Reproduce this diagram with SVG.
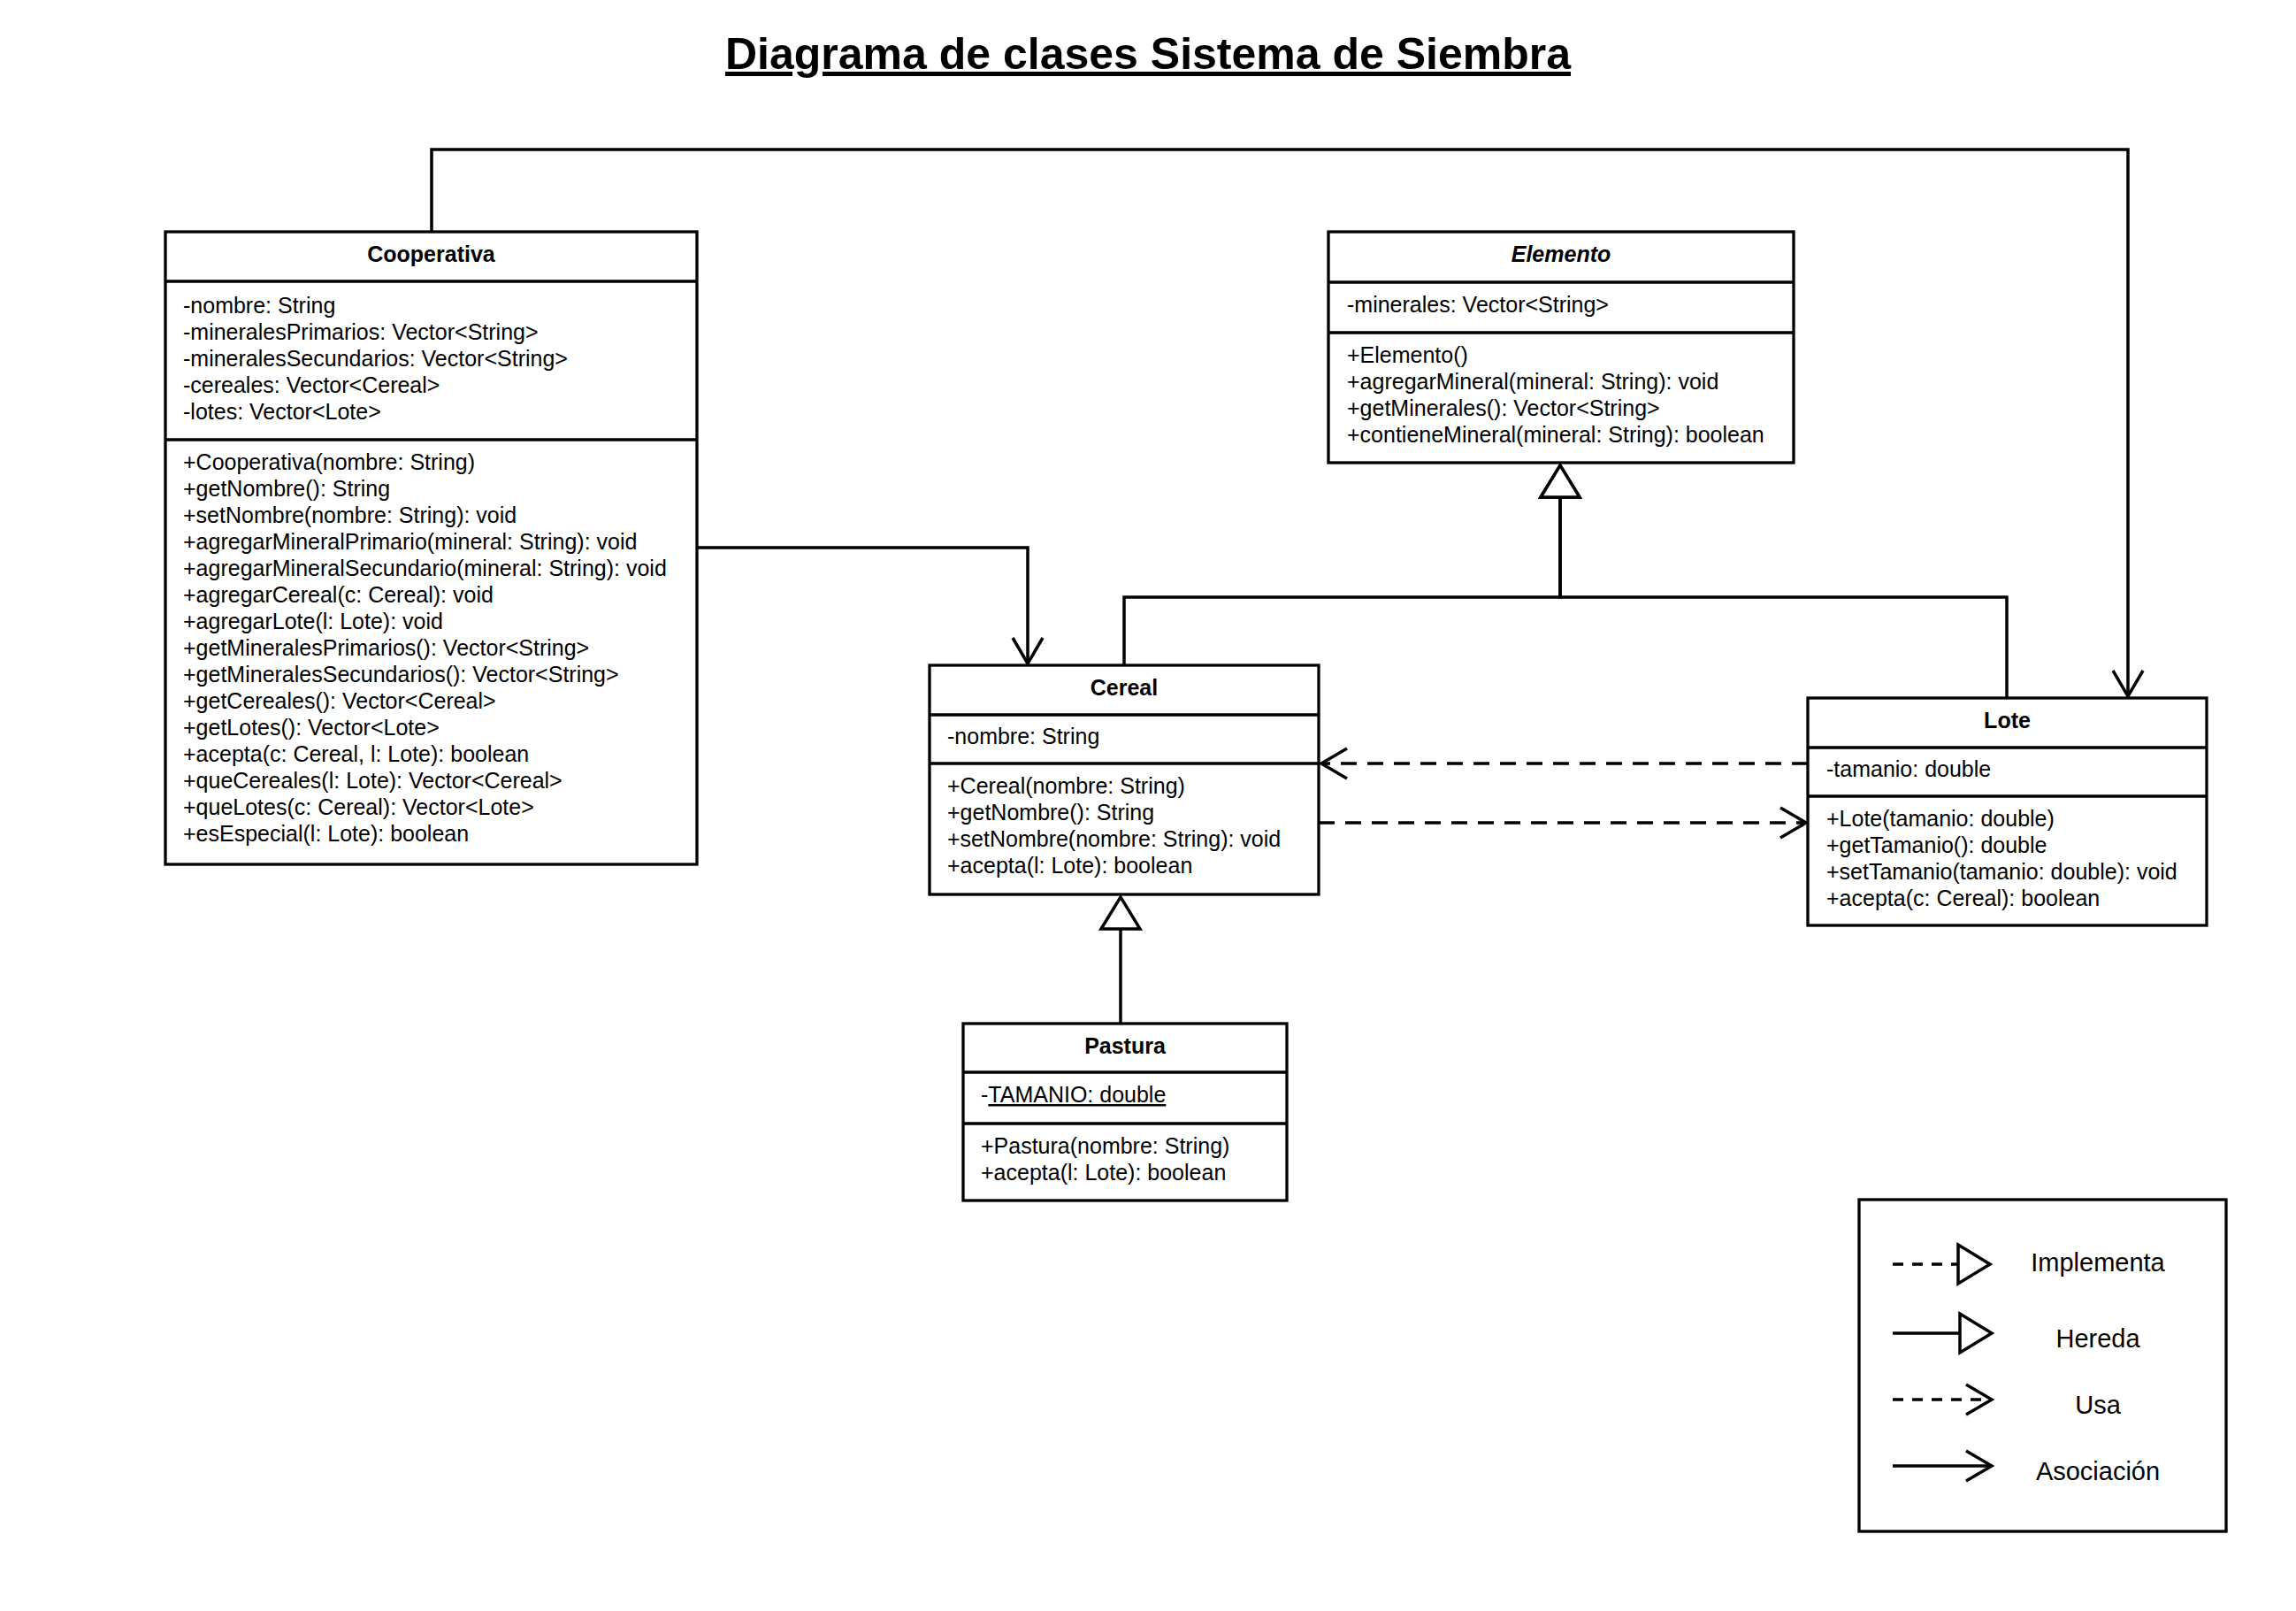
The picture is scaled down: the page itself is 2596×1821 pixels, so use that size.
<svg xmlns="http://www.w3.org/2000/svg" width="2596" height="1821" viewBox="0 0 2596 1821">
<style>
text{font-family:"Liberation Sans",Arial,sans-serif;fill:#000}
.t{font-size:25px}
.h{font-size:25px;font-weight:bold;text-anchor:middle}
.box{fill:#fff;stroke:#000;stroke-width:3.3}
.div{stroke:#000;stroke-width:3.3}
.c{fill:none;stroke:#000;stroke-width:3.5}
.d{stroke-dasharray:18 12}
.ld{stroke-dasharray:12 10}
.lg{font-size:29px;text-anchor:middle}
</style>
<defs>
<marker id="open" markerUnits="userSpaceOnUse" markerWidth="40" markerHeight="40" refX="30" refY="17" orient="auto" overflow="visible">
<path d="M1,0 L30,17 L1,34" fill="none" stroke="#000" stroke-width="3.5" stroke-dasharray="none"/>
</marker>
<marker id="tri" markerUnits="userSpaceOnUse" markerWidth="40" markerHeight="46" refX="36" refY="22" orient="auto" overflow="visible">
<path d="M0,0 L36,22 L0,44 Z" fill="#fff" stroke="#000" stroke-width="3.5" stroke-dasharray="none"/>
</marker>
</defs>
<rect width="2596" height="1821" fill="#fff"/>
<text x="1298" y="78" font-size="50" font-weight="bold" text-anchor="middle" text-decoration="underline">Diagrama de clases Sistema de Siembra</text>

<g id="connectors">
<path class="c" d="M488,262 V169 H2406 V787" marker-end="url(#open)"/>
<path class="c" d="M788,619 H1162 V750" marker-end="url(#open)"/>
<path class="c" d="M1271,752 V675 H1764 V526" marker-end="url(#tri)"/>
<path class="c" d="M2269,789 V675 H1764 V526" marker-end="url(#tri)"/>
<path class="c" d="M1267,1157 V1014" marker-end="url(#tri)"/>
<path class="c d" d="M2044,863 H1494" marker-end="url(#open)"/>
<path class="c d" d="M1491,930 H2042" marker-end="url(#open)"/>
</g>

<g id="Cooperativa">
<rect class="box" x="187" y="262" width="601" height="715"/>
<line class="div" x1="187" y1="318" x2="788" y2="318"/>
<line class="div" x1="187" y1="497" x2="788" y2="497"/>
<text class="h" x="487.5" y="296">Cooperativa</text>
<text class="t" x="207" y="354">-nombre: String</text>
<text class="t" x="207" y="384">-mineralesPrimarios: Vector&lt;String&gt;</text>
<text class="t" x="207" y="414">-mineralesSecundarios: Vector&lt;String&gt;</text>
<text class="t" x="207" y="444">-cereales: Vector&lt;Cereal&gt;</text>
<text class="t" x="207" y="474">-lotes: Vector&lt;Lote&gt;</text>
<text class="t" x="207" y="531">+Cooperativa(nombre: String)</text>
<text class="t" x="207" y="561">+getNombre(): String</text>
<text class="t" x="207" y="591">+setNombre(nombre: String): void</text>
<text class="t" x="207" y="621">+agregarMineralPrimario(mineral: String): void</text>
<text class="t" x="207" y="651">+agregarMineralSecundario(mineral: String): void</text>
<text class="t" x="207" y="681">+agregarCereal(c: Cereal): void</text>
<text class="t" x="207" y="711">+agregarLote(l: Lote): void</text>
<text class="t" x="207" y="741">+getMineralesPrimarios(): Vector&lt;String&gt;</text>
<text class="t" x="207" y="771">+getMineralesSecundarios(): Vector&lt;String&gt;</text>
<text class="t" x="207" y="801">+getCereales(): Vector&lt;Cereal&gt;</text>
<text class="t" x="207" y="831">+getLotes(): Vector&lt;Lote&gt;</text>
<text class="t" x="207" y="861">+acepta(c: Cereal, l: Lote): boolean</text>
<text class="t" x="207" y="891">+queCereales(l: Lote): Vector&lt;Cereal&gt;</text>
<text class="t" x="207" y="921">+queLotes(c: Cereal): Vector&lt;Lote&gt;</text>
<text class="t" x="207" y="951">+esEspecial(l: Lote): boolean</text>
</g>

<g id="Elemento">
<rect class="box" x="1502" y="262" width="526" height="261"/>
<line class="div" x1="1502" y1="319" x2="2028" y2="319"/>
<line class="div" x1="1502" y1="376" x2="2028" y2="376"/>
<text class="h" x="1765" y="296" font-style="italic">Elemento</text>
<text class="t" x="1523" y="353">-minerales: Vector&lt;String&gt;</text>
<text class="t" x="1523" y="410">+Elemento()</text>
<text class="t" x="1523" y="440">+agregarMineral(mineral: String): void</text>
<text class="t" x="1523" y="470">+getMinerales(): Vector&lt;String&gt;</text>
<text class="t" x="1523" y="500">+contieneMineral(mineral: String): boolean</text>
</g>

<g id="Cereal">
<rect class="box" x="1051" y="752" width="440" height="259"/>
<line class="div" x1="1051" y1="808" x2="1491" y2="808"/>
<line class="div" x1="1051" y1="863" x2="1491" y2="863"/>
<text class="h" x="1271" y="786">Cereal</text>
<text class="t" x="1071" y="841">-nombre: String</text>
<text class="t" x="1071" y="897">+Cereal(nombre: String)</text>
<text class="t" x="1071" y="927">+getNombre(): String</text>
<text class="t" x="1071" y="957">+setNombre(nombre: String): void</text>
<text class="t" x="1071" y="987">+acepta(l: Lote): boolean</text>
</g>

<g id="Lote">
<rect class="box" x="2044" y="789" width="451" height="257"/>
<line class="div" x1="2044" y1="845" x2="2495" y2="845"/>
<line class="div" x1="2044" y1="900" x2="2495" y2="900"/>
<text class="h" x="2269.5" y="823">Lote</text>
<text class="t" x="2065" y="878">-tamanio: double</text>
<text class="t" x="2065" y="934">+Lote(tamanio: double)</text>
<text class="t" x="2065" y="964">+getTamanio(): double</text>
<text class="t" x="2065" y="994">+setTamanio(tamanio: double): void</text>
<text class="t" x="2065" y="1024">+acepta(c: Cereal): boolean</text>
</g>

<g id="Pastura">
<rect class="box" x="1089" y="1157" width="366" height="200"/>
<line class="div" x1="1089" y1="1212" x2="1455" y2="1212"/>
<line class="div" x1="1089" y1="1270" x2="1455" y2="1270"/>
<text class="h" x="1272" y="1191">Pastura</text>
<text class="t" x="1109" y="1246">-<tspan text-decoration="underline">TAMANIO: double</tspan></text>
<text class="t" x="1109" y="1304">+Pastura(nombre: String)</text>
<text class="t" x="1109" y="1334">+acepta(l: Lote): boolean</text>
</g>

<g id="Leyenda">
<rect class="box" x="2102" y="1356" width="415" height="375"/>
<path class="c ld" d="M2140,1429 H2250" marker-end="url(#tri)"/>
<path class="c" d="M2140,1507 H2252" marker-end="url(#tri)"/>
<path class="c ld" d="M2140,1582 H2252" marker-end="url(#open)"/>
<path class="c" d="M2140,1657 H2252" marker-end="url(#open)"/>
<text class="lg" x="2372" y="1437">Implementa</text>
<text class="lg" x="2372" y="1523">Hereda</text>
<text class="lg" x="2372" y="1598">Usa</text>
<text class="lg" x="2372" y="1673">Asociación</text>
</g>
</svg>
